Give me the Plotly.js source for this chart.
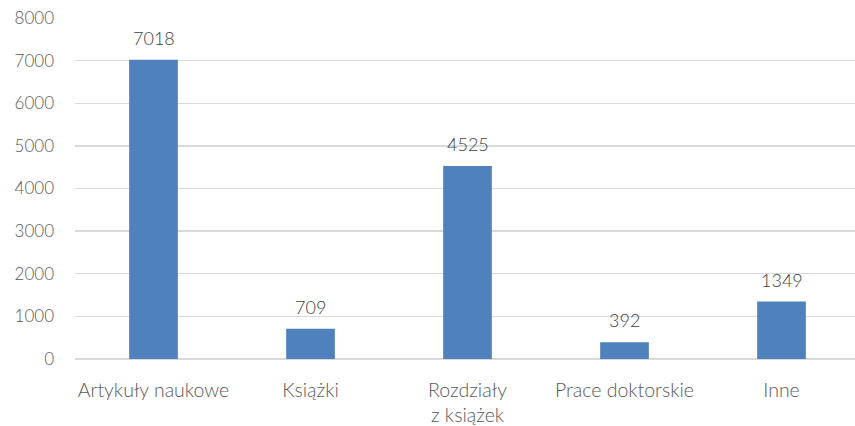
<!DOCTYPE html>
<html><head><meta charset="utf-8">
<script src="https://cdn.plot.ly/plotly-3.0.1.min.js"></script>
<style>html,body{margin:0;padding:0;overflow:hidden;background:#fff;}#chart{width:860px;height:426px;}</style>
</head><body><div id="chart"></div>
<script>
const categories = ["Artykuły naukowe", "Książki", "Rozdziały<br>z książek", "Prace doktorskie", "Inne"];
const values = [7018, 709, 4525, 392, 1349];
const yTicks = [0, 1000, 2000, 3000, 4000, 5000, 6000, 7000, 8000];

const fontFam = "Lato, 'Open Sans', sans-serif";
const trace = {
  type: "bar",
  x: categories,
  y: values,
  marker: {color: "#4F81BD"},
  hoverinfo: "none"
};
const annotations = categories.map((c, i) => ({
  x: c, y: values[i], xref: "x", yref: "y",
  text: String(values[i]), showarrow: false,
  yanchor: "middle", yshift: 22,
  font: {family: fontFam, size: 18, color: "#404040", weight: 300}
}));
const layout = {
  width: 860, height: 426,
  margin: {l: 75, r: 0, t: 18, b: 67},
  paper_bgcolor: "#fff", plot_bgcolor: "#fff",
  bargap: 0.69,
  showlegend: false,
  annotations: annotations,
  font: {family: fontFam, color: "#595959", weight: 300},
  xaxis: {
    type: "category",
    tickfont: {family: fontFam, size: 19.5, color: "#595959", weight: 300},
    showgrid: false, showline: false, zeroline: false,
    ticks: "", ticklabelstandoff: 17
  },
  yaxis: {
    range: [0, 8000],
    tickvals: yTicks,
    ticktext: yTicks.map(String),
    tickfont: {family: fontFam, size: 17, color: "#595959", weight: 300},
    showgrid: true, gridcolor: "#D9D9D9", gridwidth: 1.3,
    zeroline: true, zerolinecolor: "#D9D9D9", zerolinewidth: 1.3,
    showline: false, ticks: "", ticklabelstandoff: 20
  }
};
Plotly.newPlot("chart", [trace], layout, {displayModeBar: false, staticPlot: true});
</script></body></html>
